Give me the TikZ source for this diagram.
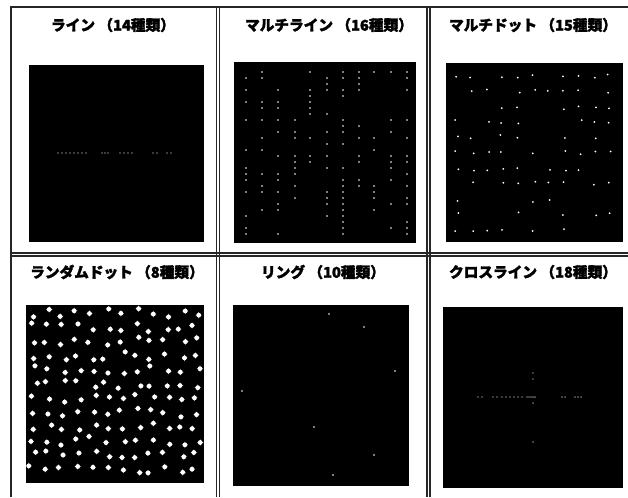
\documentclass[tikz,border=0pt]{standalone}
\usepackage{fontspec}
\newfontfamily\jp[FakeBold=2]{Noto Sans CJK JP}
\begin{document}
\begin{tikzpicture}[x=0.75pt,y=-0.75pt,
  frame/.style={line width=0.9pt,black!85},
  title/.style={font=\jp\fontsize{11}{13}\selectfont\bfseries,inner sep=0pt},
  blk/.style={fill=black},
  dot/.style={fill=white},
  bigdot/.style={fill=white}]
\useasboundingbox (0,0) rectangle (628,497);
% frames
\draw[frame] (11,497) -- (11,7) -- (628,7);
\draw[frame] (216.5,7) -- (216.5,497);
\draw[frame] (219.5,7) -- (219.5,497);
\draw[frame] (427,7) -- (427,497);
\draw[frame] (430,7) -- (430,497);
\draw[frame] (11,253) -- (628,253);
\draw[frame] (11,256) -- (628,256);
% titles
\node[title] (t1) at (113,25) {ライン （14種類）};
\node[title] (t2) at (329,25) {マルチライン （16種類）};
\node[title] (t3) at (533,25) {マルチドット （15種類）};
\node[title] (t4) at (117,272) {ランダムドット （8種類）};
\node[title] (t5) at (323,272) {リング （10種類）};
\node[title] (t6) at (533,272) {クロスライン （18種類）};
% black squares
\fill[blk] (29,65) rectangle (204,242);
\fill[blk] (234,62) rectangle (416,243);
\fill[blk] (446,63) rectangle (623,242);
\fill[blk] (26,305) rectangle (204,483);
\fill[blk] (233,305) rectangle (409,486);
\fill[blk] (443,307) rectangle (623,488);
% line pattern
\foreach \x in {58,62,66,70,74,78,82,86,102,105,108,120,124,128,132,153,157,167,171}
  \fill[dot] (\x,153) circle[radius=0.55pt];
% multi-line pattern
\pgfmathsetseed{4711}
\foreach \x in {246,262,278,295,310,327,343,359,374,391,407}{
  \foreach \y in {72,78,...,238}{
    \pgfmathparse{rnd<0.42?1:0}
    \ifnum\pgfmathresult=1 \fill[dot] (\x,\y) circle[radius=0.7pt];\fi
  }
}
% multi-dot pattern
\pgfmathsetseed{1234}
\foreach \x in {457,472,488,502,518,534,548,564,580,595,609}{
  \foreach \y in {76,91,108,122,137,153,169,183,200,214,230}{
    \pgfmathparse{rnd<0.62?1:0}
    \ifnum\pgfmathresult=1
      \pgfmathsetmacro\dx{rand*2}\pgfmathsetmacro\dy{rand*2}
      \fill[dot] (\x+\dx,\y+\dy) circle[radius=0.75pt];
    \fi
  }
}
% random dot pattern
\pgfmathsetseed{2024}
\foreach \i in {0,...,11}{
  \foreach \j in {0,...,11}{
    \pgfmathsetmacro\px{33+\i*14.8+rand*4.5}
    \pgfmathsetmacro\py{313+\j*14.2+rand*4.5}
    \fill[bigdot] (\px,\py) circle[radius=1.8pt];
    \fill[bigdot] (\px-3.2,\py) -- (\px,\py-1) -- (\px+3.2,\py) -- (\px,\py+1) -- cycle;
    \fill[bigdot] (\px,\py-3.2) -- (\px+1,\py) -- (\px,\py+3.2) -- (\px-1,\py) -- cycle;
  }
}
% ring pattern
\foreach \p in {(329,314),(364,327),(395,371),(242,391),(314,427),(374,455),(333,475)}
  \fill[dot] \p circle[radius=0.7pt];
% cross line pattern
\foreach \x in {478,482,493,497,502,506,510,514,518,522,527,529,531,533,535,562,565,575,578,581}
  \fill[dot] (\x,397) circle[radius=0.55pt];
\foreach \y in {373,379,403,442}
  \fill[dot] (533,\y) circle[radius=0.55pt];
\end{tikzpicture}
\end{document}
